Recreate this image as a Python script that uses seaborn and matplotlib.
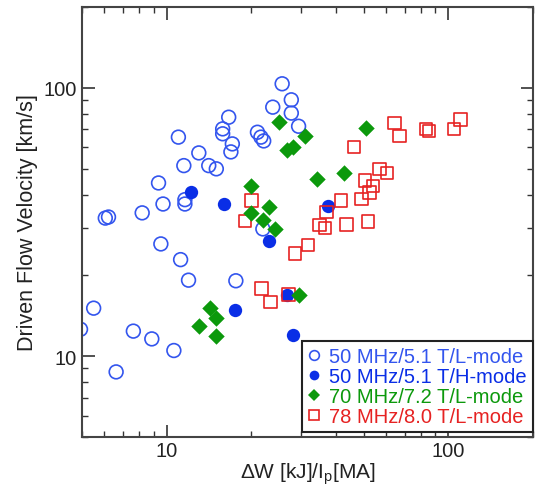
import matplotlib
matplotlib.use("Agg")
import matplotlib.pyplot as plt
from matplotlib.lines import Line2D
from matplotlib.ticker import LogLocator, NullFormatter, FixedLocator, FixedFormatter
import seaborn as sns
import pandas as pd

# 50 MHz / 5.1 T, L-mode (open circles)
l50_dw = [25.7, 27.7, 23.8, 27.7, 29.4, 16.6, 15.8, 15.8, 17.1, 16.9,
          21.0, 21.6, 22.1, 11.0, 13.0, 11.5, 14.1, 15.0, 9.35, 9.7,
          11.6, 11.6, 8.18, 6.21, 6.05, 9.53, 11.2, 11.95, 5.50, 4.94,
          7.61, 8.85, 10.6, 6.61, 17.6, 21.95]
l50_v = [103.5, 90.2, 84.7, 80.5, 71.9, 77.7, 70.3, 67.4, 61.8, 57.7,
         68.3, 65.5, 63.4, 65.5, 57.2, 51.3, 51.3, 49.9, 44.2, 36.9,
         38.3, 36.9, 34.2, 33.0, 32.7, 26.2, 22.9, 19.2, 15.1, 12.6,
         12.4, 11.6, 10.5, 8.74, 19.1, 29.8]

# 50 MHz / 5.1 T, H-mode (filled circles)
h50_dw = [12.2, 16.0, 23.0, 37.5, 17.5, 26.7, 28.0]
h50_v = [41.0, 36.9, 26.9, 36.3, 14.9, 16.9, 11.98]

# 70 MHz / 7.2 T, L-mode (filled diamonds)
l70_dw = [25.0, 31.1, 26.7, 28.2, 51.0, 34.3, 42.7, 20.0, 23.0, 20.0,
          22.0, 24.2, 29.4, 14.3, 15.0, 13.0, 15.0]
l70_v = [74.7, 66.2, 58.7, 60.1, 71.0, 45.9, 48.1, 43.2, 36.1, 34.2,
         32.2, 29.9, 16.9, 15.1, 13.9, 13.0, 11.9]

# 78 MHz / 8.0 T, L-mode (open squares)
l78_dw = [46.3, 64.4, 67.1, 83.2, 85.5, 104.7, 110.5, 57.0, 60.6, 50.6,
          54.0, 52.6, 49.1, 51.9, 41.6, 20.0, 19.0, 37.0, 34.9, 36.5,
          43.5, 31.7, 28.5, 21.7, 23.4, 27.1]
l78_v = [60.1, 74.0, 66.0, 70.3, 69.1, 70.3, 76.2, 49.9, 48.1, 45.1,
         43.0, 40.8, 38.5, 31.8, 38.0, 38.0, 31.9, 34.4, 30.8, 30.0,
         30.9, 25.96, 24.1, 17.9, 15.9, 17.0]

labels = ["50 MHz/5.1 T/L-mode", "50 MHz/5.1 T/H-mode",
          "70 MHz/7.2 T/L-mode", "78 MHz/8.0 T/L-mode"]

blue_open = "#3355ee"
blue_fill = "#0a2ee6"
green = "#0c990c"
red = "#e62222"

sns.set_theme(style="ticks")
plt.rcParams["font.family"] = ["Liberation Sans", "DejaVu Sans"]
plt.rcParams["mathtext.fontset"] = "custom"
plt.rcParams["mathtext.rm"] = "Liberation Sans"
plt.rcParams["mathtext.it"] = "Liberation Sans"

fig = plt.figure(figsize=(5.35, 4.89), dpi=100)
ax = fig.add_axes([82 / 535, 1 - 438 / 489, (533 - 82) / 535, (438 - 8) / 489])

df_l50 = pd.DataFrame({"dw": l50_dw, "v": l50_v})
df_h50 = pd.DataFrame({"dw": h50_dw, "v": h50_v})
df_l70 = pd.DataFrame({"dw": l70_dw, "v": l70_v})
df_l78 = pd.DataFrame({"dw": l78_dw, "v": l78_v})

sns.scatterplot(data=df_l50, x="dw", y="v", ax=ax, marker="o", s=98,
                facecolors="none", edgecolor=blue_open, linewidth=1.2,
                zorder=2, legend=False)
sns.scatterplot(data=df_h50, x="dw", y="v", ax=ax, marker="o", s=92,
                color=blue_fill, edgecolor=blue_fill, linewidth=0,
                zorder=3, legend=False)
sns.scatterplot(data=df_l78, x="dw", y="v", ax=ax, marker="s", s=80,
                facecolors="none", edgecolor=red, linewidth=1.2,
                zorder=4, legend=False)
sns.scatterplot(data=df_l70, x="dw", y="v", ax=ax, marker="D", s=70,
                color=green, edgecolor=green, linewidth=0,
                zorder=5, legend=False)

# open markers: make sure faces stay hollow
for coll, ec in ((ax.collections[0], blue_open), (ax.collections[2], red)):
    coll.set_facecolor("none")
    coll.set_edgecolor(ec)

ax.set_xscale("log")
ax.set_yscale("log")
ax.set_xlim(5, 200)
ax.set_ylim(5, 200)

for axis in (ax.xaxis, ax.yaxis):
    axis.set_major_locator(FixedLocator([10, 100]))
    axis.set_major_formatter(FixedFormatter(["10", "100"]))
    axis.set_minor_locator(LogLocator(base=10, subs=range(2, 10)))
    axis.set_minor_formatter(NullFormatter())

ax.tick_params(which="both", direction="in", top=True, right=True,
               color="#333333", labelsize=14.5, labelcolor="#222222")
ax.tick_params(which="major", length=9, width=1.2, pad=4)
ax.tick_params(which="minor", length=4.5, width=1.0)
ax.tick_params(axis="x", which="major", pad=3)
for sp in ax.spines.values():
    sp.set_color("#444444")
    sp.set_linewidth(1.5)

ax.set_xlabel(r"ΔW [kJ]/I$_\mathrm{p}$[MA]", fontsize=15, color="#222222",
              labelpad=0)
ax.set_ylabel("Driven Flow Velocity [km/s]", fontsize=15.5, color="#222222",
              labelpad=4)

handles = [
    Line2D([], [], ls="none", marker="o", ms=7, mfc="none", mec=blue_open, mew=1.2),
    Line2D([], [], ls="none", marker="o", ms=7, mfc=blue_fill, mec=blue_fill, mew=0),
    Line2D([], [], ls="none", marker="D", ms=6, mfc=green, mec=green, mew=0),
    Line2D([], [], ls="none", marker="s", ms=6.5, mfc="none", mec=red, mew=1.2),
]
leg = ax.legend(handles, labels, loc="lower right", bbox_to_anchor=(1.0, 0.012),
                fontsize=14.5, frameon=True, fancybox=False, framealpha=1,
                edgecolor="#222222", borderaxespad=0.0, borderpad=0.3,
                handlelength=0.6, handletextpad=0.45, labelspacing=0.05,
                labelcolor=[blue_open, blue_fill, green, red])
leg.get_frame().set_linewidth(1.5)

fig.savefig("out.png", dpi=100)
